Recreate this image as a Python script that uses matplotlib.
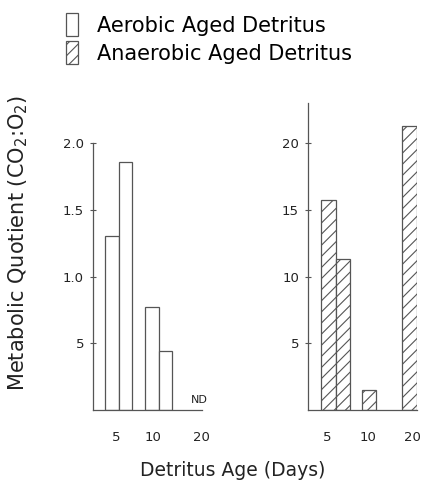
import matplotlib
matplotlib.use('Agg')
import matplotlib.pyplot as plt
from matplotlib.patches import Patch

# data
days = ['5', '10', '20']
aerobic = [1.3, 1.86, 0.77, 0.44]        # two bars at day 5, two at day 10, ND at day 20
anaerobic = [15.7, 11.3, 1.5, 21.3]      # two at day 5, one at day 10, one at day 20
legend_labels = ['Aerobic Aged Detritus', 'Anaerobic Aged Detritus']

# horizontal placement (axis units, one bar = 1 wide)
aer_pos = [0.9, 1.9, 3.9, 4.9]
aer_ticks = [1.75, 4.45, 8.05]
ana_pos = [0.9, 1.9, 3.7, 6.5]
ana_ticks = [1.3, 4.1, 7.2]

plt.rcParams['font.family'] = 'DejaVu Sans'
plt.rcParams['hatch.linewidth'] = 0.8
plt.rcParams['hatch.color'] = '#333333'
edge = '#555555'

fig = plt.figure(figsize=(4.29, 4.93), dpi=100)

def style(ax, ylim, yticks, ylabels, xticks):
    ax.set_ylim(*ylim)
    ax.set_yticks(yticks)
    ax.set_yticklabels(ylabels)
    ax.set_xticks(xticks)
    ax.set_xticklabels(days)
    for s in ['top', 'right']:
        ax.spines[s].set_visible(False)
    for s in ['left', 'bottom']:
        ax.spines[s].set_color(edge)
        ax.spines[s].set_linewidth(0.9)
    ax.tick_params(axis='x', length=0, pad=15, labelsize=9.5, colors='#222222')
    ax.tick_params(axis='y', direction='inout', length=5, width=0.8, pad=4,
                   labelsize=9.5, colors=edge, labelcolor='#222222')

ax1 = fig.add_axes([93/429, 83/493, 109/429, 267/493])
ax1.bar(aer_pos, aerobic, width=1.0, align='edge', facecolor='white',
        edgecolor=edge, linewidth=0.9)
ax1.set_xlim(0, 8.1)
style(ax1, (0, 2.0), [0.5, 1.0, 1.5, 2.0], ['5', '1.0', '1.5', '2.0'], aer_ticks)
ax1.text(7.9, 0.04, 'ND', fontsize=8, ha='center', va='bottom', color='#222222')

ax2 = fig.add_axes([308/429, 83/493, 109/429, 307/493])
ax2.bar(ana_pos, anaerobic, width=1.0, align='edge', facecolor='white',
        edgecolor=edge, linewidth=0.9, hatch='///')
ax2.set_xlim(0, 7.5)
style(ax2, (0, 23), [5, 10, 15, 20], ['5', '10', '15', '20'], ana_ticks)

fig.text(18/429, 1 - 243/493, r'Metabolic Quotient (CO$_2$:O$_2$)', rotation=90,
         ha='center', va='center', fontsize=15, color='#222222')
fig.text(233/429, 1 - 470/493, 'Detritus Age (Days)', ha='center', va='center',
         fontsize=13.5, color='#222222')

handles = [Patch(facecolor='white', edgecolor=edge, linewidth=0.9),
           Patch(facecolor='white', edgecolor=edge, linewidth=0.9, hatch='///')]
fig.legend(handles, legend_labels, loc='upper left', bbox_to_anchor=(58/429, 0.99),
           frameon=False, fontsize=15, handlelength=0.55, handleheight=1.3,
           handletextpad=0.9, labelspacing=0.25, borderaxespad=0)

fig.savefig('out.png', dpi=100)
